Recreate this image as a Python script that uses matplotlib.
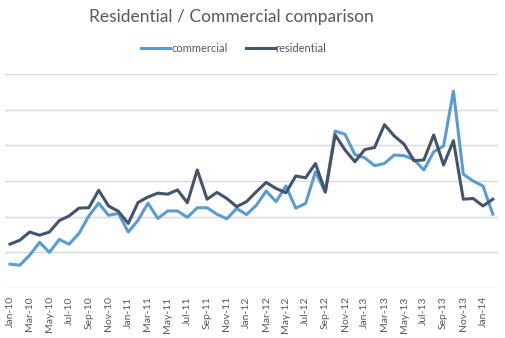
import matplotlib
matplotlib.use("Agg")
import matplotlib.pyplot as plt
from matplotlib.lines import Line2D

months = ["Jan-10", "Feb-10", "Mar-10", "Apr-10", "May-10", "Jun-10", "Jul-10", "Aug-10",
          "Sep-10", "Oct-10", "Nov-10", "Dec-10", "Jan-11", "Feb-11", "Mar-11", "Apr-11",
          "May-11", "Jun-11", "Jul-11", "Aug-11", "Sep-11", "Oct-11", "Nov-11", "Dec-11",
          "Jan-12", "Feb-12", "Mar-12", "Apr-12", "May-12", "Jun-12", "Jul-12", "Aug-12",
          "Sep-12", "Oct-12", "Nov-12", "Dec-12", "Jan-13", "Feb-13", "Mar-13", "Apr-13",
          "May-13", "Jun-13", "Jul-13", "Aug-13", "Sep-13", "Oct-13", "Nov-13", "Dec-13",
          "Jan-14", "Feb-14"]

commercial = [0.67, 0.64, 0.92, 1.28, 1.00, 1.36, 1.23, 1.53, 2.02, 2.38, 2.04, 2.09,
              1.57, 1.90, 2.38, 1.95, 2.16, 2.16, 1.98, 2.25, 2.25, 2.07, 1.94, 2.23,
              2.06, 2.32, 2.72, 2.42, 2.86, 2.24, 2.37, 3.26, 2.68, 4.40, 4.31, 3.74,
              3.65, 3.43, 3.49, 3.73, 3.71, 3.60, 3.31, 3.82, 3.98, 5.52, 3.19, 3.00,
              2.86, 2.07]

residential = [1.23, 1.34, 1.57, 1.48, 1.57, 1.89, 2.02, 2.24, 2.25, 2.74, 2.30, 2.15,
               1.81, 2.40, 2.55, 2.66, 2.63, 2.75, 2.39, 3.31, 2.49, 2.68, 2.51, 2.28,
               2.42, 2.70, 2.96, 2.79, 2.67, 3.14, 3.09, 3.49, 2.70, 4.29, 3.87, 3.54,
               3.88, 3.94, 4.58, 4.26, 4.03, 3.57, 3.59, 4.29, 3.45, 4.13, 2.49, 2.51,
               2.30, 2.49]

COMM_COLOR = "#5b9bd5"
RES_COLOR = "#44546a"
GRID_COLOR = "#d9d9d9"
TEXT_COLOR = "#595959"

plt.rcParams["font.family"] = ["Lato", "DejaVu Sans"]

fig = plt.figure(figsize=(5.05, 3.38), dpi=100)
ax = fig.add_axes([5.07 / 505, 50 / 338, 492.7 / 505, 214 / 338])

x = list(range(len(months)))
ax.plot(x, commercial, color=COMM_COLOR, lw=2.2, solid_joinstyle="round", zorder=3)
ax.plot(x, residential, color=RES_COLOR, lw=2.2, solid_joinstyle="round", zorder=4)

ax.set_xlim(-0.5, len(months) - 0.5)
ax.set_ylim(0, 6)
ax.set_yticks(range(0, 7))
ax.yaxis.grid(True, color=GRID_COLOR, lw=1.0)
ax.set_axisbelow(True)
ax.tick_params(axis="y", left=False, labelleft=False)

ax.set_xticks(x[::2])
ax.set_xticklabels(months[::2], rotation=90, fontsize=7.5, color=TEXT_COLOR)
ax.tick_params(axis="x", length=0, pad=6)

for s in ax.spines.values():
    s.set_visible(False)

fig.text(231 / 505, 1 - 17 / 338, "Residential / Commercial comparison",
         ha="center", va="center", fontsize=12.5, color=TEXT_COLOR)

handles = [Line2D([], [], color=COMM_COLOR, lw=2.2), Line2D([], [], color=RES_COLOR, lw=2.2)]
fig.legend(handles, ["commercial", "residential"], loc="center",
           bbox_to_anchor=(234 / 505, 1 - 48 / 338), ncol=2, frameon=False,
           fontsize=8, handlelength=2.6, handletextpad=0.1, columnspacing=1.6,
           labelcolor=TEXT_COLOR)

fig.savefig("out.png", dpi=100)
